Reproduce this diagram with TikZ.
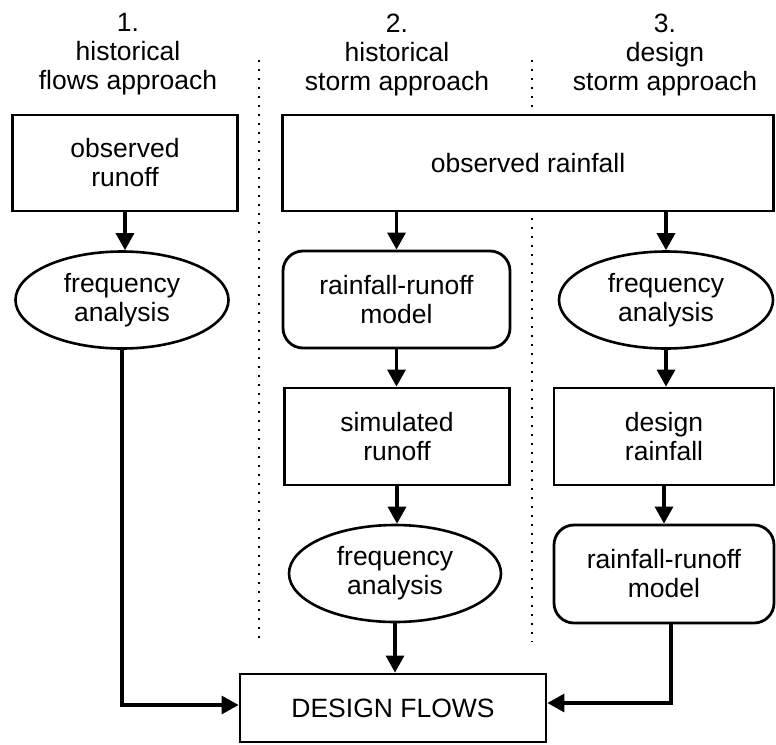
\documentclass[tikz,border=0pt]{standalone}
\usepackage{fontspec}
\setmainfont{Liberation Sans}
\usetikzlibrary{shapes.geometric,arrows.meta}
\begin{document}
\begin{tikzpicture}[x=1pt,y=-1pt,
  every node/.style={font=\fontsize{26.5}{29}\selectfont, align=center, inner sep=0pt},
  sqbox/.style={draw, line width=2.8pt, rectangle},
  rbox/.style={draw, line width=2.8pt, rectangle, rounded corners=20pt},
  ell/.style={draw, line width=2.6pt, ellipse},
  arr/.style={line width=3.2pt, -{Triangle[width=18pt,length=17pt]}},
  sep/.style={line width=2pt, dash pattern=on 2pt off 7pt}
]
\useasboundingbox (0,0) rectangle (776,744);
% headers
\node (h1) at (128,54.5) {1.\\historical\\flows approach};
\node (h2) at (397,54.5) {2.\\historical\\storm approach};
\node (h3) at (665,54.5) {3.\\design\\storm approach};
% separators
\draw[sep] (259,60) -- (259,642);
\draw[sep] (532,60) -- (532,107);
\draw[sep] (532,218) -- (532,642);
% nodes
\node[sqbox, minimum width=225pt, minimum height=96pt] (obsrun) at (125,163) {observed\\runoff};
\node[sqbox, minimum width=491pt, minimum height=96pt] (obsrain) at (528,163) {observed rainfall};
\node[ell, minimum width=213pt, minimum height=97pt] (freq1) at (122,300) {frequency\\analysis};
\node[rbox, minimum width=227pt, minimum height=97pt] (rrm1) at (396.5,299.5) {rainfall-runoff\\model};
\node[ell, minimum width=214pt, minimum height=97pt] (freq3) at (666,300) {frequency\\analysis};
\node[sqbox, minimum width=225pt, minimum height=97pt] (sim) at (397,436.5) {simulated\\runoff};
\node[sqbox, minimum width=220pt, minimum height=97pt] (desrain) at (664,436.5) {design\\rainfall};
\node[ell, minimum width=212pt, minimum height=97pt] (freq2) at (395,573.5) {frequency\\analysis};
\node[rbox, minimum width=220pt, minimum height=98pt] (rrm2) at (664,574) {rainfall-runoff\\model};
\node[sqbox, minimum width=306pt, minimum height=68pt] (flows) at (393,708) {DESIGN FLOWS};
% connectors
\draw[arr] (obsrun.south) -- (obsrun.south |- freq1.north);
\draw[arr] (rrm1.north |- obsrain.south) -- (rrm1.north);
\draw[arr] (freq3.north |- obsrain.south) -- (freq3.north);
\draw[arr] (rrm1.south) -- (rrm1.south |- sim.north);
\draw[arr] (sim.south) -- (sim.south |- freq2.north);
\draw[arr] (freq3.south) -- (freq3.south |- desrain.north);
\draw[arr] (desrain.south) -- (desrain.south |- rrm2.north);
\draw[arr] (freq2.south) -- (freq2.south |- flows.north);
\draw[arr, line join=miter] (freq1.south) -- ([yshift=3pt]freq1.south |- flows.west) -- ([yshift=3pt]flows.west);
\draw[arr, line join=miter] ([xshift=7pt]rrm2.south) -- ([xshift=7pt,yshift=5pt]rrm2.south |- flows.east) -- ([yshift=5pt]flows.east);
\end{tikzpicture}
\end{document}
